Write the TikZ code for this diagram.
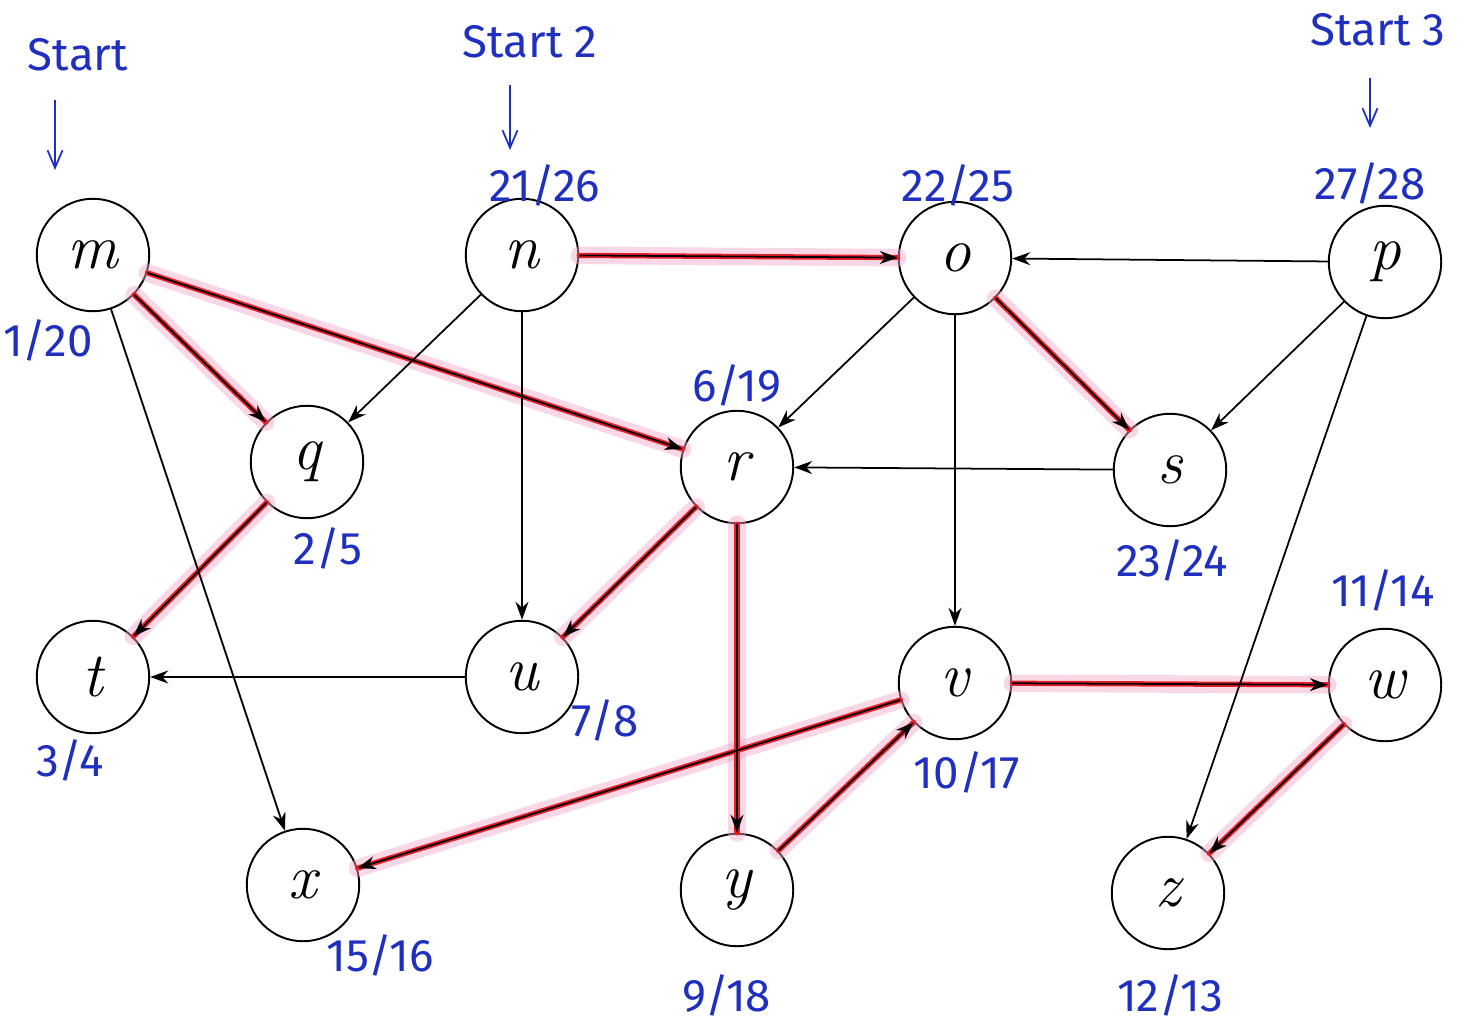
\documentclass[tikz,border=0pt]{standalone}
\usepackage{fontspec}
\newfontfamily\handfont{Fira Sans}
\usetikzlibrary{arrows.meta}
\definecolor{handblue}{HTML}{1F2FC0}
\definecolor{treered}{HTML}{E8202A}
\definecolor{halo}{HTML}{F2A8C8}
\begin{document}
\begin{tikzpicture}[x=0.02cm,y=-0.02cm,
  vert/.style={circle,draw,line width=1.1pt,minimum size=2.25cm,inner sep=0pt,font=\fontsize{36}{40}\selectfont\itshape},
  edge/.style={line width=1pt,-{Stealth[length=0.36cm,width=0.26cm]}},
  treehalo/.style={halo,opacity=0.45,line width=10pt,line cap=round},
  treeline/.style={treered,line width=3pt,line cap=round},
  lab/.style={text=handblue,font=\handfont\fontsize{26}{28}\selectfont,inner sep=0pt},
  startarrow/.style={handblue,line width=1pt,-{Straight Barb[length=0.35cm,width=0.3cm]}}]
\useasboundingbox[fill=white] (0,0) rectangle (1461,1034);

% vertices
\node[vert] (m) at (93,255) {m};
\node[vert] (n) at (522,255) {n};
\node[vert] (o) at (955,258) {o};
\node[vert] (p) at (1385,262) {p};
\node[vert] (q) at (307,462) {q};
\node[vert] (r) at (737,467) {r};
\node[vert] (s) at (1170,470) {s};
\node[vert] (t) at (93,677) {t};
\node[vert] (u) at (522,677) {u};
\node[vert] (v) at (955,683) {v};
\node[vert] (w) at (1385,685) {w};
\node[vert] (x) at (303,885) {x};
\node[vert] (y) at (737,890) {y};
\node[vert] (z) at (1168,893) {z};

% tree edge highlighting (halo)
\foreach \a/\b in {m/q,m/r,n/o,o/s,q/t,r/u,r/y,v/w,v/x,y/v,w/z}
  \draw[treehalo] (\a) -- (\b);
\foreach \a/\b in {m/q,m/r,n/o,o/s,q/t,r/u,r/y,v/w,v/x,y/v,w/z}
  \draw[treeline] (\a) -- (\b);

% edges
\foreach \a/\b in {m/q,m/r,m/x,n/q,n/u,n/o,o/r,o/s,o/v,p/o,p/s,p/z,q/t,r/u,r/y,s/r,u/t,v/x,v/w,w/z,y/v}
  \draw[edge] (\a) -- (\b);

% start markers
\node[lab] (st1) at (78,55) {Start};
\node[lab] (st2) at (530,42) {Start 2};
\node[lab] (st3) at (1378,30) {Start 3};
\coordinate (a1s) at (55,100); \coordinate (a1e) at (55,170);
\coordinate (a2s) at (510,85); \coordinate (a2e) at (510,150);
\coordinate (a3s) at (1370,78); \coordinate (a3e) at (1370,128);
\draw[startarrow] (a1s) -- (a1e);
\draw[startarrow] (a2s) -- (a2e);
\draw[startarrow] (a3s) -- (a3e);

% discovery / finish times
\node[lab] (ln) at (545,185) {21/26};
\node[lab] (lo) at (958,185) {22/25};
\node[lab] (lp) at (1370,183) {27/28};
\node[lab] (lm) at (48,340) {1/20};
\node[lab] (lr) at (737,385) {6/19};
\node[lab] (lq) at (328,548) {2/5};
\node[lab] (ls) at (1172,560) {23/24};
\node[lab] (lw) at (1383,590) {11/14};
\node[lab] (lt) at (70,760) {3/4};
\node[lab] (lu) at (605,720) {7/8};
\node[lab] (lv) at (967,772) {10/17};
\node[lab] (lx) at (380,955) {15/16};
\node[lab] (ly) at (727,995) {9/18};
\node[lab] (lz) at (1170,995) {12/13};
\end{tikzpicture}
\end{document}
